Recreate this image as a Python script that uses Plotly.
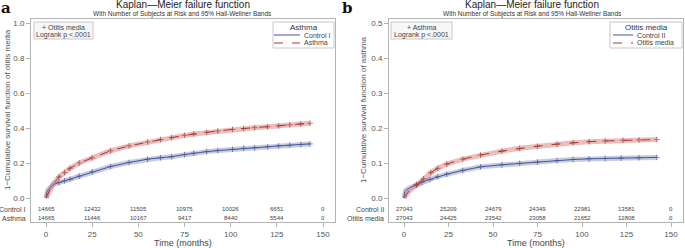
import plotly.graph_objects as go

W, H = 685, 248

# ---------------- data: panel a (outcome: otitis media) ----------------
a_ctrl_t = [0, 0.4, 1, 2, 4, 7, 10, 13, 18, 25, 35, 45, 55, 62, 68, 75, 80, 87, 93, 101, 107, 113, 120, 126, 132, 138, 143]
a_ctrl_v = [0, 0.035, 0.045, 0.058, 0.078, 0.088, 0.098, 0.106, 0.125, 0.150, 0.180, 0.203, 0.222, 0.230, 0.236, 0.248, 0.256, 0.265, 0.271, 0.278, 0.284, 0.288, 0.293, 0.298, 0.302, 0.306, 0.309]
a_case_t = [0, 1, 2, 4, 7, 10, 13, 18, 25, 35, 45, 55, 62, 68, 75, 80, 87, 93, 101, 107, 113, 120, 126, 132, 138, 143]
a_case_v = [0, 0.025, 0.045, 0.082, 0.12, 0.145, 0.17, 0.20, 0.23, 0.27, 0.298, 0.32, 0.334, 0.345, 0.358, 0.366, 0.375, 0.383, 0.392, 0.397, 0.402, 0.407, 0.412, 0.418, 0.423, 0.427]

# ---------------- data: panel b (outcome: asthma) ----------------
b_ctrl_t = [0, 0.3, 1, 3, 7, 10, 14.6, 19, 24, 33, 43, 55, 65, 75, 86, 95, 104, 113, 122, 132, 142]
b_ctrl_v = [0, 0.018, 0.022, 0.029, 0.038, 0.045, 0.053, 0.061, 0.068, 0.079, 0.089, 0.095, 0.099, 0.103, 0.107, 0.110, 0.112, 0.113, 0.114, 0.115, 0.116]
b_case_t = [0, 1, 3, 7, 11, 15, 19, 24, 33, 43, 55, 65, 75, 86, 95, 104, 113, 123, 132, 142]
b_case_v = [0, 0.008, 0.02, 0.037, 0.055, 0.072, 0.085, 0.097, 0.111, 0.123, 0.134, 0.142, 0.148, 0.154, 0.158, 0.161, 0.163, 0.165, 0.166, 0.167]

# ---------------- risk tables ----------------
risk_times = [0, 25, 50, 75, 100, 125, 150]
a_risk_ctrl = [14665, 12432, 11505, 10975, 10026, 6651, 0]
a_risk_case = [14665, 11446, 10167, 9417, 8440, 5544, 0]
b_risk_ctrl = [27043, 25209, 24679, 24349, 22981, 13581, 0]
b_risk_case = [27043, 24425, 23542, 23058, 21652, 12808, 0]

x_ticks = [0, 25, 50, 75, 100, 125, 150]
a_y_ticks = [0.0, 0.2, 0.4, 0.6, 0.8, 1.0]
b_y_ticks = [0.0, 0.1, 0.2, 0.3, 0.4, 0.5]

BLUE, RED = "#445694", "#A23A2E"
BLUE_BAND, RED_BAND = "rgba(111,126,179,0.40)", "rgba(208,91,91,0.40)"
GRID = "#b4b4b4"
TXT = "#555555"
FONT = "Liberation Sans, Arial, sans-serif"


def px(x):
    return x / W


def py(y):
    return 1 - y / H


fig = go.Figure()


def add_curve(t, v, color, band, dash, xa, ya):
    fig.add_trace(go.Scatter(x=t, y=v, mode="lines", line=dict(color=band, width=5),
                             xaxis=xa, yaxis=ya, showlegend=False, hoverinfo="skip"))
    sizes = [0 if tt < 6 else 4 for tt in t]
    fig.add_trace(go.Scatter(x=t, y=v, mode="lines+markers",
                             line=dict(color=color, width=1, dash=dash),
                             marker=dict(symbol="cross-thin", size=sizes,
                                         line=dict(color=color, width=1)),
                             xaxis=xa, yaxis=ya, showlegend=False))


add_curve(a_ctrl_t, a_ctrl_v, BLUE, BLUE_BAND, "solid", "x", "y")
add_curve(a_case_t, a_case_v, RED, RED_BAND, "dash", "x", "y")
add_curve(b_ctrl_t, b_ctrl_v, BLUE, BLUE_BAND, "solid", "x2", "y2")
add_curve(b_case_t, b_case_v, RED, RED_BAND, "dash", "x2", "y2")

frame_top, frame_bot = 19, 222
a_l, a_r = 31, 335
b_l, b_r = 389, 683
ydom = [py(frame_bot), py(frame_top)]

# pixel -> data mapping for y (0 at y=198)
a_scale = 175.0  # px per unit
b_scale = 350.0
a_yrange = [-(frame_bot - 198) / a_scale, (198 - frame_top) / a_scale]
b_yrange = [-(frame_bot - 198) / b_scale, (198 - frame_top) / b_scale]
a_xrange = [(a_l - 46) / 1.8467, (a_r - 46) / 1.8467]
b_xrange = [(b_l - 404) / 1.78, (b_r - 404) / 1.78]

axis_common = dict(showline=True, linecolor=GRID, linewidth=1, mirror=True, showgrid=False,
                   zeroline=False, ticks="outside", ticklen=4, tickcolor=GRID,
                   tickfont=dict(size=8, color=TXT, family=FONT))

fig.update_layout(
    width=W, height=H, margin=dict(l=0, r=0, t=0, b=0),
    paper_bgcolor="white", plot_bgcolor="white", showlegend=False,
    font=dict(family=FONT),
    xaxis=dict(domain=[px(a_l), px(a_r)], range=a_xrange, tickvals=x_ticks, anchor="y", **axis_common),
    yaxis=dict(domain=ydom, range=a_yrange, tickvals=a_y_ticks, tickformat=".1f", anchor="x", **axis_common),
    xaxis2=dict(domain=[px(b_l), px(b_r)], range=b_xrange, tickvals=x_ticks, anchor="y2", **axis_common),
    yaxis2=dict(domain=ydom, range=b_yrange, tickvals=b_y_ticks, tickformat=".1f", anchor="x2", **axis_common),
)

ann = []
shapes = []


def text(x, y, s, size=8, color=TXT, xanchor="center", xref="paper", angle=0, bold=False, family=FONT):
    ann.append(dict(x=x, y=y, xref=xref, yref="paper", text=s, showarrow=False,
                    xanchor=xanchor, yanchor="middle", textangle=angle,
                    font=dict(size=size, color=color, family=family)))


def panel(l, r, title_c, label, ylabel, ytitle_x, inset_txt, inset_box, leg_box, leg_title,
          leg_names, risk_ctrl, risk_case, rowlab, xref, lab_x):
    c = (l + r) / 2
    text(px(lab_x), py(8), "<b>%s</b>" % label, size=15, color="#111", family="DejaVu Serif, serif")
    text(px(title_c), py(5), "Kaplan\u2014Meier failure function", size=10, color="#222")
    text(px(title_c), py(14), "With Number of Subjects at Risk and 95% Hall-Wellner Bands", size=6.5, color="#333")
    text(px(ytitle_x), py(110), ylabel, size=8, color=TXT, angle=-90)
    text(px(c), py(243), "Time (months)", size=9, color="#444")
    # inset box
    x0, x1, y0, y1 = inset_box
    shapes.append(dict(type="rect", xref="paper", yref="paper", x0=px(x0), x1=px(x1), y0=py(y1), y1=py(y0),
                       line=dict(color="#c8c8c8", width=1), fillcolor="#f7f7f7"))
    text(px((x0 + x1) / 2), py(27), "+ " + inset_txt, size=7, color="#444")
    text(px((x0 + x1) / 2), py(35), "Logrank p <.0001", size=7, color="#444")
    # legend box
    x0, x1, y0, y1, lx0, lx1 = leg_box
    shapes.append(dict(type="rect", xref="paper", yref="paper", x0=px(x0), x1=px(x1), y0=py(y1), y1=py(y0),
                       line=dict(color="#c8c8c8", width=1), fillcolor="white"))
    text(px((x0 + x1) / 2), py(27), leg_title, size=8, color="#333")
    for i, (nm, colr, dsh) in enumerate(zip(leg_names, [BLUE, RED], ["solid", "dash"])):
        yy = 35 + 8 * i
        shapes.append(dict(type="line", xref="paper", yref="paper", x0=px(lx0), x1=px(lx1), y0=py(yy), y1=py(yy),
                           line=dict(color=colr, width=1, dash=dsh)))
        text(px(lx1 + 2), py(yy), nm, size=7, color="#444", xanchor="left")
    # risk table
    for tt, n1, n2 in zip(risk_times, risk_ctrl, risk_case):
        ann.append(dict(x=tt, y=py(209), xref=xref, yref="paper", text=str(n1), showarrow=False,
                        xanchor="center", yanchor="middle", font=dict(size=6, color="#444", family=FONT)))
        ann.append(dict(x=tt, y=py(218), xref=xref, yref="paper", text=str(n2), showarrow=False,
                        xanchor="center", yanchor="middle", font=dict(size=6, color="#444", family=FONT)))
    text(px(l - 3), py(209), rowlab[0], size=7, color="#444", xanchor="right")
    text(px(l - 3), py(218), rowlab[1], size=7, color="#444", xanchor="right")


panel(a_l, a_r, 183, "a", "1\u2212Cumulative survival function of otitis media", 7,
      "Otitis media", (34, 93, 22, 39), (273, 334, 22, 48, 274, 300), "Asthma",
      ["Control I", "Asthma"], a_risk_ctrl, a_risk_case, ["Control I", "Asthma"], "x", 6)
panel(b_l, b_r, 532, "b", "1\u2212Cumulative survival function of asthma", 363,
      "Asthma", (391, 452, 22, 39), (610, 682, 22, 48, 613, 633), "Otitis media",
      ["Control II", "Otitis media"], b_risk_ctrl, b_risk_case, ["Control II", "Otitis media"], "x2", 347)

fig.update_layout(annotations=ann, shapes=shapes)
fig.write_html("out.html", config={"displayModeBar": False},
               post_script="document.body.style.margin='0';document.body.style.overflow='hidden';")
